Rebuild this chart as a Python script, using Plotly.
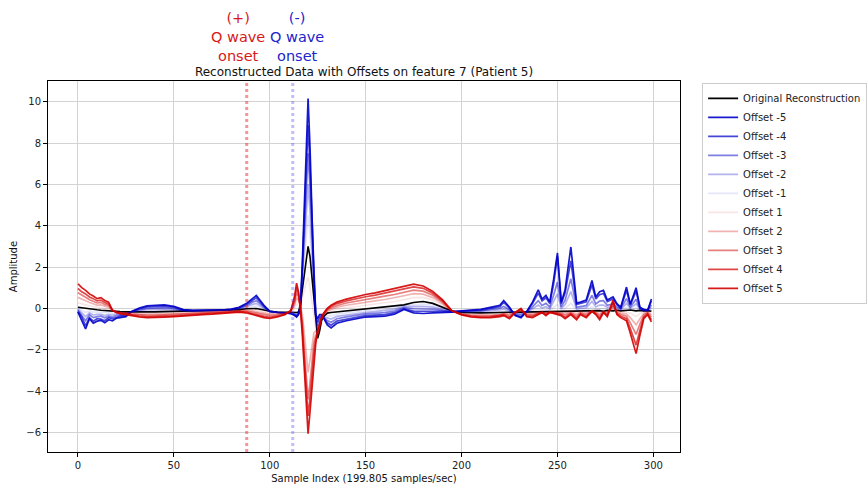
import plotly.graph_objects as go

# ---- sample positions (shared by all series) ----
seg_a_x = [0, 2, 4, 6, 8, 10, 12, 14, 16, 18, 20, 22, 25, 28]
seg_b_x = [32, 36, 40, 45, 50, 55, 60, 65, 70, 75, 80, 84, 88, 91, 93, 97, 100, 104, 108]
seg_c_x = [111, 113, 114, 115, 116, 117, 118, 119, 120, 121, 122, 123, 124, 125, 126, 127, 128, 130, 132]
seg_d_x = [135, 140, 145, 150, 155, 160, 165, 170, 175, 180, 185, 190, 195, 200, 205, 210, 215, 220]
seg_e_x = [222, 225, 228, 231, 234, 237, 240, 242, 244, 246, 248, 250, 252, 254, 257, 260, 262, 265,
           268, 270, 272, 274, 276, 279, 281, 283, 286, 288, 291, 293, 295, 297, 299]
sample_index = seg_a_x + seg_b_x + seg_c_x + seg_d_x + seg_e_x

# ---- series values ----
original = (
    [0.05, 0.02, 0.0, -0.03, -0.05, -0.07, -0.09, -0.11, -0.13, -0.14, -0.15, -0.16, -0.17, -0.18]
    + [-0.18, -0.17, -0.17, -0.16, -0.15, -0.15, -0.14, -0.13, -0.12, -0.11, -0.1, -0.06, -0.02, 0.0, -0.01, -0.08, -0.14, -0.18, -0.2]
    + [-0.21, -0.21, -0.2, -0.18, 0.2, 0.9, 1.6, 2.3, 3.0, 2.5, 1.5, 0.5, -0.5, -1.45, -1.1, -0.6, -0.4, -0.23, -0.2]
    + [-0.17, -0.13, -0.09, -0.05, 0.0, 0.05, 0.1, 0.17, 0.28, 0.33, 0.24, 0.06, -0.13, -0.2, -0.22, -0.22, -0.21, -0.2]
    + [-0.2, -0.19, -0.2, -0.18, -0.19, -0.17, -0.16, -0.18, -0.15, -0.17, -0.14, -0.15, -0.16, -0.13, -0.12, -0.15, -0.12,
       -0.14, -0.1, -0.13, -0.11, -0.14, -0.1, -0.12, -0.09, -0.12, -0.1, -0.08, -0.12, -0.1, -0.13, -0.11, -0.14]
)
offset_m5 = (
    [-0.18, -0.55, -1.0, -0.5, -0.72, -0.62, -0.58, -0.7, -0.55, -0.6, -0.48, -0.45, -0.4, -0.15]
    + [0.02, 0.12, 0.15, 0.17, 0.1, -0.06, -0.1, -0.1, -0.09, -0.08, -0.04, 0.05, 0.25, 0.5, 0.62, 0.15, -0.15, -0.2, -0.22]
    + [-0.25, -0.35, -0.42, -0.3, 0.0, 2.2, 4.8, 7.5, 10.15, 7.8, 4.8, 1.5, -0.3, -0.5, -0.3, -0.3, -0.45, -0.8, -0.95]
    + [-0.72, -0.6, -0.5, -0.42, -0.4, -0.38, -0.28, -0.05, -0.22, -0.25, -0.22, -0.2, -0.18, -0.12, -0.08, -0.05, 0.05, 0.15]
    + [0.38, 0.05, -0.35, -0.45, -0.15, 0.3, 0.9, 0.45, 0.63, 0.3, 1.4, 2.68, 0.3, 0.9, 2.97, 0.25, 0.3,
       0.4, 1.35, 0.55, 0.8, 0.87, 0.4, 0.55, 0.23, 0.05, 1.03, 0.2, 1.0, 0.05, -0.05, -0.1, 0.45]
)
offset_m4 = (
    [-0.15, -0.42, -0.85, -0.45, -0.62, -0.5, -0.52, -0.6, -0.45, -0.5, -0.44, -0.38, -0.35, -0.16]
    + [-0.02, 0.07, 0.09, 0.11, 0.06, -0.08, -0.11, -0.11, -0.1, -0.09, -0.05, 0.03, 0.2, 0.41, 0.51, 0.11, -0.15, -0.2, -0.22]
    + [-0.24, -0.32, -0.38, -0.28, 0.04, 1.97, 4.22, 6.56, 8.86, 6.85, 4.21, 1.32, -0.34, -0.67, -0.44, -0.35, -0.44, -0.7, -0.82]
    + [-0.62, -0.52, -0.43, -0.35, -0.33, -0.3, -0.21, -0.01, -0.13, -0.15, -0.14, -0.15, -0.17, -0.13, -0.11, -0.08, 0.0, 0.09]
    + [0.29, 0.01, -0.33, -0.41, -0.16, 0.23, 0.74, 0.36, 0.51, 0.23, 1.17, 2.5, 0.23, 0.75, 2.3, 0.19, 0.24,
       0.32, 1.13, 0.45, 0.66, 0.72, 0.33, 0.45, 0.18, 0.02, 0.86, 0.16, 0.83, 0.03, -0.06, -0.1, 0.36]
)
offset_m3 = (
    [-0.09, -0.32, -0.6, -0.31, -0.45, -0.4, -0.38, -0.46, -0.38, -0.42, -0.35, -0.33, -0.31, -0.16]
    + [-0.06, 0.0, 0.02, 0.04, 0.0, -0.1, -0.12, -0.11, -0.1, -0.09, -0.06, 0.01, 0.14, 0.3, 0.37, 0.06, -0.15, -0.19, -0.21]
    + [-0.24, -0.3, -0.34, -0.26, 0.07, 1.72, 3.62, 5.58, 7.5, 5.84, 3.58, 1.13, -0.37, -0.85, -0.6, -0.41, -0.43, -0.59, -0.67]
    + [-0.5, -0.41, -0.34, -0.27, -0.24, -0.21, -0.13, 0.04, -0.02, -0.02, -0.04, -0.1, -0.16, -0.15, -0.14, -0.12, -0.05, 0.01]
    + [0.09, -0.07, -0.28, -0.32, -0.17, 0.07, 0.37, 0.14, 0.24, 0.07, 0.63, 1.27, 0.07, 0.39, 1.43, 0.05, 0.09,
       0.13, 0.63, 0.21, 0.35, 0.37, 0.15, 0.22, 0.07, -0.03, 0.47, 0.06, 0.44, -0.02, -0.09, -0.1, 0.16]
)
offset_m2 = (
    [-0.04, -0.21, -0.4, -0.22, -0.32, -0.29, -0.29, -0.35, -0.3, -0.32, -0.28, -0.28, -0.26, -0.17]
    + [-0.1, -0.05, -0.04, -0.03, -0.05, -0.11, -0.12, -0.12, -0.11, -0.1, -0.08, -0.02, 0.09, 0.2, 0.24, 0.01, -0.14, -0.19, -0.21]
    + [-0.23, -0.27, -0.29, -0.23, 0.12, 1.45, 2.94, 4.48, 6.0, 4.73, 2.89, 0.92, -0.42, -1.05, -0.76, -0.47, -0.42, -0.47, -0.52]
    + [-0.39, -0.32, -0.25, -0.2, -0.16, -0.12, -0.05, 0.08, 0.08, 0.1, 0.06, -0.04, -0.15, -0.17, -0.16, -0.15, -0.11, -0.06]
    + [-0.03, -0.12, -0.25, -0.26, -0.18, -0.03, 0.16, 0.01, 0.08, -0.03, 0.32, 0.7, -0.02, 0.18, 0.81, -0.03, 0.01,
       0.02, 0.34, 0.07, 0.16, 0.16, 0.05, 0.08, 0.01, -0.07, 0.24, 0.0, 0.22, -0.05, -0.11, -0.11, 0.04]
)
offset_m1 = (
    [0.0, -0.09, -0.2, -0.12, -0.18, -0.18, -0.19, -0.23, -0.21, -0.23, -0.22, -0.22, -0.22, -0.17]
    + [-0.14, -0.11, -0.11, -0.09, -0.1, -0.13, -0.13, -0.12, -0.11, -0.1, -0.09, -0.04, 0.03, 0.1, 0.12, -0.03, -0.14, -0.18, -0.2]
    + [-0.22, -0.24, -0.25, -0.21, 0.16, 1.17, 2.27, 3.39, 4.5, 3.61, 2.19, 0.71, -0.46, -1.25, -0.93, -0.54, -0.41, -0.35, -0.36]
    + [-0.28, -0.22, -0.17, -0.12, -0.08, -0.04, 0.02, 0.13, 0.18, 0.21, 0.15, 0.01, -0.14, -0.18, -0.19, -0.19, -0.16, -0.13]
    + [-0.13, -0.16, -0.22, -0.21, -0.19, -0.11, -0.03, -0.1, -0.06, -0.11, 0.04, 0.19, -0.1, -0.01, 0.25, -0.1, -0.07,
       -0.08, 0.07, -0.05, 0.0, -0.02, -0.04, -0.04, -0.05, -0.1, 0.04, -0.05, 0.01, -0.08, -0.12, -0.11, -0.07]
)
offset_p1 = (
    [0.28, 0.22, 0.17, 0.12, 0.08, 0.04, 0.03, -0.01, -0.04, -0.13, -0.16, -0.18, -0.2, -0.21]
    + [-0.23, -0.23, -0.23, -0.21, -0.2, -0.19, -0.18, -0.16, -0.15, -0.14, -0.12, -0.08, -0.06, -0.06, -0.08, -0.15, -0.21, -0.23, -0.22]
    + [-0.19, 0.0, 0.2, 0.12, 0.15, 0.5, 0.9, 1.25, 1.5, 1.0, 0.3, -0.4, -0.95, -1.35, -1.05, -0.58, -0.37, -0.18, -0.13]
    + [-0.04, 0.03, 0.09, 0.14, 0.2, 0.27, 0.33, 0.42, 0.52, 0.53, 0.4, 0.16, -0.13, -0.23, -0.27, -0.28, -0.27, -0.25]
    + [-0.22, -0.23, -0.2, -0.16, -0.22, -0.21, -0.18, -0.18, -0.18, -0.17, -0.15, -0.17, -0.18, -0.18, -0.14, -0.2, -0.14,
       -0.18, -0.11, -0.15, -0.17, -0.15, -0.14, -0.05, -0.12, -0.16, -0.17, -0.23, -0.39, -0.26, -0.18, -0.13, -0.21]
)
offset_p2 = (
    [0.53, 0.43, 0.37, 0.28, 0.22, 0.16, 0.17, 0.1, 0.05, -0.11, -0.17, -0.2, -0.22, -0.25]
    + [-0.28, -0.29, -0.29, -0.27, -0.26, -0.24, -0.22, -0.2, -0.19, -0.17, -0.14, -0.11, -0.1, -0.13, -0.16, -0.24, -0.28, -0.28, -0.24]
    + [-0.16, 0.15, 0.5, 0.4, 0.1, -0.3, -1.2, -2.1, -3.1, -2.5, -1.8, -1.2, -1.1, -1.25, -0.9, -0.53, -0.33, -0.13, -0.05]
    + [0.06, 0.15, 0.23, 0.3, 0.36, 0.43, 0.51, 0.61, 0.71, 0.69, 0.52, 0.23, -0.13, -0.26, -0.32, -0.33, -0.33, -0.3]
    + [-0.25, -0.29, -0.2, -0.12, -0.26, -0.26, -0.21, -0.19, -0.22, -0.18, -0.18, -0.2, -0.22, -0.25, -0.18, -0.28, -0.18,
       -0.24, -0.12, -0.19, -0.26, -0.16, -0.2, 0.05, -0.16, -0.23, -0.27, -0.45, -0.8, -0.5, -0.25, -0.17, -0.31]
)
offset_p3 = (
    [0.76, 0.63, 0.54, 0.42, 0.35, 0.26, 0.29, 0.19, 0.14, -0.1, -0.18, -0.22, -0.25, -0.29]
    + [-0.33, -0.34, -0.34, -0.32, -0.31, -0.28, -0.26, -0.24, -0.22, -0.2, -0.16, -0.13, -0.14, -0.19, -0.23, -0.31, -0.35, -0.33, -0.26]
    + [-0.14, 0.3, 0.75, 0.55, 0.05, -0.7, -2.0, -3.2, -4.4, -3.6, -2.6, -1.7, -1.3, -1.2, -0.85, -0.5, -0.3, -0.08, 0.03]
    + [0.14, 0.26, 0.35, 0.43, 0.5, 0.59, 0.67, 0.78, 0.88, 0.83, 0.63, 0.3, -0.12, -0.28, -0.35, -0.37, -0.37, -0.33]
    + [-0.28, -0.36, -0.2, -0.08, -0.31, -0.32, -0.24, -0.19, -0.26, -0.19, -0.2, -0.23, -0.26, -0.33, -0.22, -0.37, -0.22,
       -0.31, -0.13, -0.22, -0.35, -0.17, -0.27, 0.17, -0.21, -0.3, -0.38, -0.7, -1.26, -0.76, -0.33, -0.21, -0.42]
)
offset_p4 = (
    [0.96, 0.8, 0.7, 0.55, 0.47, 0.36, 0.4, 0.28, 0.21, -0.09, -0.19, -0.24, -0.27, -0.32]
    + [-0.38, -0.41, -0.41, -0.38, -0.36, -0.33, -0.3, -0.27, -0.26, -0.23, -0.19, -0.16, -0.19, -0.26, -0.31, -0.39, -0.43, -0.38, -0.29]
    + [-0.12, 0.45, 1.0, 0.7, 0.02, -1.0, -2.5, -3.9, -5.2, -4.3, -3.2, -2.2, -1.5, -1.15, -0.8, -0.47, -0.27, -0.03, 0.1]
    + [0.23, 0.36, 0.47, 0.56, 0.64, 0.73, 0.82, 0.94, 1.04, 0.97, 0.73, 0.37, -0.12, -0.3, -0.39, -0.42, -0.41, -0.37]
    + [-0.32, -0.44, -0.2, -0.04, -0.36, -0.39, -0.27, -0.2, -0.31, -0.19, -0.23, -0.27, -0.31, -0.43, -0.26, -0.47, -0.26,
       -0.39, -0.14, -0.27, -0.46, -0.19, -0.34, 0.3, -0.26, -0.38, -0.5, -0.98, -1.78, -1.06, -0.43, -0.26, -0.55]
)
offset_p5 = (
    [1.19, 1.0, 0.87, 0.7, 0.6, 0.47, 0.52, 0.38, 0.3, -0.08, -0.2, -0.26, -0.3, -0.35]
    + [-0.42, -0.45, -0.45, -0.42, -0.4, -0.36, -0.33, -0.3, -0.28, -0.25, -0.2, -0.18, -0.22, -0.3, -0.36, -0.45, -0.48, -0.42, -0.3]
    + [-0.1, 0.6, 1.22, 0.8, 0.0, -1.3, -3.0, -4.6, -6.06, -5.0, -3.8, -2.7, -1.7, -1.1, -0.75, -0.45, -0.25, 0.0, 0.15]
    + [0.3, 0.45, 0.57, 0.67, 0.75, 0.85, 0.95, 1.08, 1.17, 1.08, 0.82, 0.42, -0.12, -0.32, -0.42, -0.45, -0.45, -0.4]
    + [-0.35, -0.5, -0.2, 0.0, -0.4, -0.45, -0.3, -0.2, -0.35, -0.2, -0.25, -0.3, -0.35, -0.5, -0.3, -0.55, -0.3,
       -0.45, -0.15, -0.3, -0.55, -0.2, -0.4, 0.4, -0.3, -0.45, -0.6, -1.2, -2.19, -1.3, -0.5, -0.3, -0.65]
)

offset_labels = ["Offset -5", "Offset -4", "Offset -3", "Offset -2", "Offset -1",
                 "Offset 1", "Offset 2", "Offset 3", "Offset 4", "Offset 5"]
offset_series = [offset_m5, offset_m4, offset_m3, offset_m2, offset_m1,
                 offset_p1, offset_p2, offset_p3, offset_p4, offset_p5]
offset_colors = ["rgba(0,0,200,0.9)", "rgba(0,0,200,0.72)", "rgba(0,0,200,0.5)",
                 "rgba(0,0,200,0.3)", "rgba(0,0,200,0.1)",
                 "rgba(210,0,0,0.1)", "rgba(210,0,0,0.3)", "rgba(210,0,0,0.5)",
                 "rgba(210,0,0,0.72)", "rgba(210,0,0,0.9)"]

pos_onset = 88   # (+) Q wave onset
neg_onset = 112  # (-) Q wave onset

assert len(original) == len(sample_index)
for s in offset_series:
    assert len(s) == len(sample_index), len(s)

FONT = "DejaVu Sans"
fig = go.Figure()
fig.add_trace(go.Scatter(x=sample_index, y=original, mode="lines", name="Original Reconstruction",
                         line=dict(color="black", width=1.6)))
for lab, ys, col in zip(offset_labels, offset_series, offset_colors):
    fig.add_trace(go.Scatter(x=sample_index, y=ys, mode="lines", name=lab,
                             line=dict(color=col, width=1.7)))

fig.add_shape(type="line", xref="x", yref="paper", x0=pos_onset, x1=pos_onset, y0=0, y1=1,
              line=dict(color="rgba(235,45,45,0.5)", width=3, dash="dot"), layer="above")
fig.add_shape(type="line", xref="x", yref="paper", x0=neg_onset, x1=neg_onset, y0=0, y1=1,
              line=dict(color="rgba(70,70,255,0.35)", width=3, dash="dot"), layer="above")

fig.add_annotation(x=83.4, xref="x", y=1.118, yref="paper", yanchor="middle", xanchor="center",
                   text="(+)<br>Q wave<br>onset", showarrow=False,
                   font=dict(family=FONT, size=14.5, color="rgb(215,25,25)"))
fig.add_annotation(x=114.2, xref="x", y=1.118, yref="paper", yanchor="middle", xanchor="center",
                   text="(-)<br>Q wave<br>onset", showarrow=False,
                   font=dict(family=FONT, size=14.5, color="rgb(35,35,205)"))

axis_common = dict(showline=True, mirror=True, linecolor="black", linewidth=1,
                   ticks="outside", ticklen=4, tickcolor="black",
                   showgrid=True, gridcolor="#d3d3d3", gridwidth=1, zeroline=False,
                   tickfont=dict(family=FONT, size=10, color="#222"))

fig.update_layout(
    width=867, height=484,
    margin=dict(l=48, r=187, t=81, b=32, autoexpand=False),
    plot_bgcolor="white", paper_bgcolor="white",
    title=dict(text="Reconstructed Data with Offsets on feature 7 (Patient 5)",
               x=0.5, xref="paper", xanchor="center",
               y=1 - 72 / 484, yref="container", yanchor="middle",
               font=dict(family=FONT, size=12, color="#111")),
    xaxis=dict(range=[-15.6, 313.9], tickvals=[0, 50, 100, 150, 200, 250, 300],
               title=dict(text="Sample Index (199.805 samples/sec)", standoff=4,
                          font=dict(family=FONT, size=10, color="#111")),
               **axis_common),
    yaxis=dict(range=[-6.95, 11.0], tickvals=[-6, -4, -2, 0, 2, 4, 6, 8, 10],
               title=dict(text="Amplitude", standoff=6,
                          font=dict(family=FONT, size=10, color="#111")),
               **axis_common),
    legend=dict(x=1.035, xanchor="left", y=0.995, yanchor="top",
                bordercolor="#cccccc", borderwidth=1, bgcolor="white",
                font=dict(family=FONT, size=10, color="#222"),
                tracegroupgap=0, itemwidth=30),
    showlegend=True,
)

fig.write_html("out.html")
